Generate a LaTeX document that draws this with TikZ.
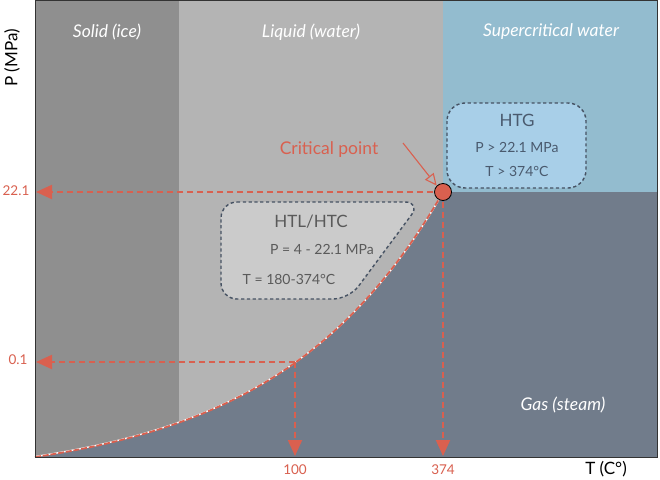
\documentclass[tikz,border=0pt]{standalone}
\usepackage{fontspec}
\setmainfont{Lato}
\usetikzlibrary{arrows.meta}
\definecolor{solidc}{HTML}{8F8F8F}
\definecolor{liquidc}{HTML}{B4B4B4}
\definecolor{superc}{HTML}{93BCCF}
\definecolor{gasc}{HTML}{717C8B}
\definecolor{redc}{HTML}{D9604F}
\definecolor{htgc}{HTML}{A8CFE8}
\definecolor{htlc}{HTML}{CBCBCB}
\definecolor{boxline}{HTML}{465263}
\definecolor{htltext}{HTML}{5A5A5A}
\definecolor{htgtext}{HTML}{4A5A6E}
\tikzset{
  region/.style={font=\itshape\fontsize{17.5}{20}\selectfont, text=white},
  redline/.style={redc, line width=2pt, dash pattern=on 6pt off 4pt},
  redtip/.style={-{Triangle[length=16pt,width=14pt]}},
  axlabel/.style={font=\fontsize{13.5}{16}\selectfont, text=redc},
  boxdash/.style={boxline, line width=1.4pt, dash pattern=on 3.2pt off 2.6pt},
  boxtitle/.style={font=\fontsize{17}{20}\selectfont},
  boxtext/.style={font=\fontsize{14}{17}\selectfont},
}
\begin{document}
\begin{tikzpicture}[x=1pt,y=-1pt]
\useasboundingbox (0,0) rectangle (660,479);
\fill[white] (0,0) rectangle (660,479);
% regions
\fill[solidc] (35,0) rectangle (179,457);
\fill[liquidc] (179,0) rectangle (443,457);
\fill[superc] (443,0) rectangle (657,192);
\fill[gasc] (443,192) rectangle (657,457);
\fill[gasc] (35,457) -- plot[domain=0:408, samples=80, variable=\u] ({35+\u},{457-25.1*(exp(0.006*\u)-1)}) -- (443,457) -- cycle;
% curve
\draw[white, line width=1.4pt] plot[domain=0:408, samples=80, variable=\u] ({35.6+\u},{456.4-25.1*(exp(0.006*\u)-1)});
\draw[redc, line width=1.8pt, dash pattern=on 6pt off 1.8pt] plot[domain=0:408, samples=80, variable=\u] ({35+\u},{457-25.1*(exp(0.006*\u)-1)});
% frame
\draw[black!80, line width=0.9pt] (35,0.5) -- (657,0.5) -- (657,457) -- (35,457) -- cycle;
% points
\coordinate (cp) at (443,192);
\coordinate (p100) at (295,362);
\coordinate (ax22) at (36,192);
\coordinate (ax01) at (36,362);
\coordinate (ax100) at (295,456);
\coordinate (ax374) at (443,456);
% region labels
\node[region] (solid) at (107,32) {Solid (ice)};
\node[region] (liquid) at (311,32) {Liquid (water)};
\node[region] (supercrit) at (551,32) {Supercritical water};
\node[region] (gas) at (563,405) {Gas (steam)};
% boxes
\draw[boxdash, fill=htlc, rounded corners=16pt] (221,202) -- (421,202) -- (349,299) -- (221,299) -- cycle;
\draw[boxdash, fill=htgc, rounded corners=18pt] (447,103) rectangle (586,188);
\node[text=htltext, boxtitle] (htl) at (311,222) {HTL/HTC};
\node[text=htltext, boxtext] (htlp) at (322,249) {P = 4 - 22.1 MPa};
\node[text=htltext, boxtext] (htlt) at (289,279) {T = 180-374°C};
\node[text=htgtext, boxtitle] (htg) at (517,120) {HTG};
\node[text=htgtext, boxtext] (htgp) at (517,147) {P > 22.1 MPa};
\node[text=htgtext, boxtext] (htgt) at (517,171) {T > 374°C};
% dashed guide lines
\draw[redline, redtip] (cp) -- (ax22);
\draw[redline, redtip] (p100) -- (ax01);
\draw[redline, redtip] (p100) -- (ax100);
\draw[redline, redtip] (cp) -- (ax374);
% critical point
\node[circle, fill=redc, draw=black, line width=0.8pt, minimum size=17pt, inner sep=0pt] (cpc) at (cp) {};
\node[text=redc, font=\fontsize{17.5}{20}\selectfont] (cplab) at (329,150) {Critical point};
\coordinate (arrstart) at (403,143);
\draw[redc, line width=1.1pt, -{Triangle[open, length=12pt, width=11pt, line width=1.1pt]}] (arrstart) -- (cpc.north west);
% axis labels
\node[axlabel] (l22) at (16,191) {22.1};
\node[axlabel] (l01) at (18,360) {0.1};
\node[axlabel] (l100) at (295,470) {100};
\node[axlabel] (l374) at (443,470) {374};
\node[font=\fontsize{17}{20}\selectfont] (tlab) at (606,469) {T (C°)};
\node[font=\fontsize{17}{20}\selectfont, rotate=90] (plab) at (12,58) {P (MPa)};
\end{tikzpicture}
\end{document}
